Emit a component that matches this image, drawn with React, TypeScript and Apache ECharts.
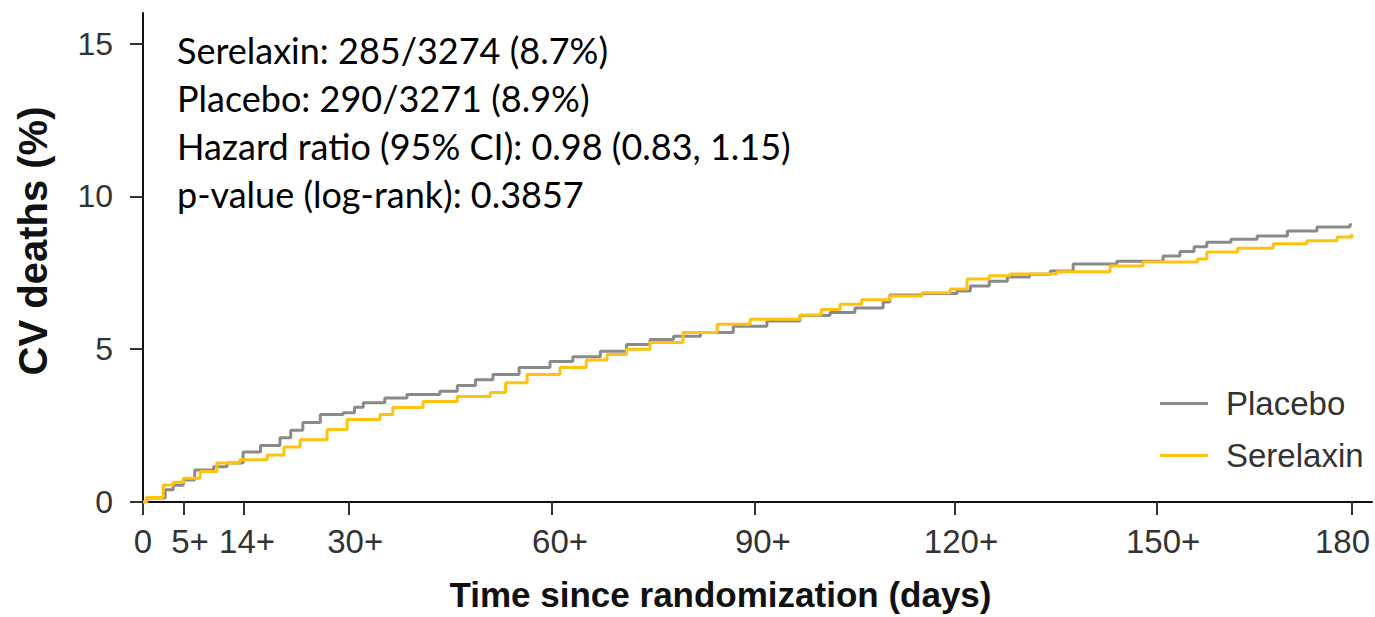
import React, { useEffect, useRef } from "react";
import * as echarts from "echarts";

const seriesNames = ["Placebo", "Serelaxin"];

const placeboDays = [0, 0.6, 3.3, 4.5, 6.0, 7.7, 10.5, 12.5, 14.9, 17.5, 20.4, 22, 23.8, 26.4, 29.8, 31.5, 32.8, 36, 39.3, 44.2, 46.8, 49.5, 52.1, 56, 60.6, 64, 68.1, 72, 75.5, 79, 83.0, 87.9, 92.9, 97.8, 102.3, 106, 110.2, 111.2, 116, 121.2, 123.2, 126, 128.7, 132, 135.1, 138.5, 145.0, 151.9, 154.4, 156.5, 158.4, 162, 165.9, 170.4, 174.8, 179.7, 180];
const placeboPct = [0, 0.13, 0.4, 0.55, 0.72, 1.05, 1.15, 1.28, 1.64, 1.85, 2.1, 2.35, 2.6, 2.86, 2.92, 3.1, 3.25, 3.4, 3.52, 3.62, 3.81, 4.0, 4.17, 4.4, 4.6, 4.75, 4.93, 5.15, 5.32, 5.42, 5.55, 5.75, 5.92, 6.1, 6.2, 6.35, 6.54, 6.77, 6.82, 6.9, 7.07, 7.22, 7.36, 7.45, 7.56, 7.79, 7.88, 8.05, 8.2, 8.35, 8.5, 8.6, 8.7, 8.87, 9.0, 9.07, 9.07];

const serelaxinDays = [0, 0.5, 3.0, 4.5, 6.0, 8.5, 11.0, 14.4, 18.5, 21, 23.4, 27.4, 30.4, 35.3, 37.2, 41.7, 46.8, 51.7, 54, 57.2, 62.1, 66, 69.1, 72, 75.5, 80.4, 85.5, 90.4, 97.8, 101, 103.8, 107, 111.2, 116, 120.2, 122.7, 126, 129.1, 136.1, 144, 148.9, 157.0, 158.4, 163, 168.3, 173.3, 177.8, 180];
const serelaxinPct = [0, 0.15, 0.56, 0.65, 0.78, 1.0, 1.28, 1.38, 1.54, 1.8, 2.04, 2.37, 2.7, 2.86, 3.09, 3.29, 3.45, 3.58, 3.9, 4.17, 4.4, 4.65, 4.83, 5.0, 5.22, 5.55, 5.82, 5.98, 6.12, 6.3, 6.47, 6.62, 6.74, 6.85, 6.97, 7.3, 7.4, 7.46, 7.53, 7.72, 7.85, 7.95, 8.18, 8.3, 8.45, 8.55, 8.67, 8.77];

const xTickDays = [0, 6, 15, 30.6, 60.8, 91.1, 120.9, 151, 180];
const xLabelDays = [0, 7, 15.5, 31.6, 62.1, 92.3, 121.8, 151.9, 178.6];
const xLabelTexts = ["0", "5+", "14+", "30+", "60+", "90+", "120+", "150+", "180"];
const yTicks = [0, 5, 10, 15];

const annotationLines = [
  "Serelaxin: 285/3274 (8.7%)",
  "Placebo: 290/3271 (8.9%)",
  "Hazard ratio (95% CI): 0.98 (0.83, 1.15)",
  "p-value (log-rank): 0.3857",
];

const xTitle = "Time since randomization (days)";
const yTitle = "CV deaths (%)";

const GREY = "#8a8a8a";
const GOLD = "#ffc20e";

export default function App() {
  const ref = useRef<HTMLDivElement>(null);

  useEffect(() => {
    if (!ref.current) return;
    const chart = echarts.init(ref.current, undefined, { renderer: "svg" });
    const toPairs = (d: number[], p: number[]) => d.map((x, i) => [x, p[i]]);

    const option: any = {
      animation: false,
      backgroundColor: "#ffffff",
      grid: { left: 143, right: 3, top: 13, bottom: 115, outerBoundsMode: "none" },
      legend: {
        orient: "vertical",
        left: 1155,
        top: 382,
        itemWidth: 48,
        itemHeight: 3,
        itemGap: 19,
        icon: "rect",
        data: seriesNames,
        textStyle: {
          fontFamily: "Liberation Sans",
          fontSize: 33,
          color: "#333333",
          padding: [0, 0, 0, 13],
        },
      },
      xAxis: {
        type: "value",
        min: 0,
        max: 183,
        name: xTitle,
        nameLocation: "middle",
        nameGap: 75,
        nameTextStyle: {
          fontFamily: "Liberation Sans",
          fontWeight: "bold",
          fontSize: 35,
          color: "#111111",
          padding: [0, 74, 0, 0],
        },
        axisLine: { show: true, onZero: false, lineStyle: { color: "#111111", width: 2 } },
        axisTick: { show: true, length: 13, customValues: xTickDays, lineStyle: { color: "#333333", width: 2 } },
        axisLabel: {
          customValues: xLabelDays,
          margin: 23,
          fontFamily: "Liberation Sans",
          fontSize: 33,
          color: "#333333",
          formatter: (v: number) => {
            const i = xLabelDays.findIndex((d) => Math.abs(d - v) < 1e-6);
            return i >= 0 ? xLabelTexts[i] : "";
          },
        },
        splitLine: { show: false },
      },
      yAxis: {
        type: "value",
        min: 0,
        max: 16,
        name: yTitle,
        nameLocation: "middle",
        nameGap: 90,
        nameTextStyle: {
          fontFamily: "Liberation Sans",
          fontWeight: "bold",
          fontSize: 40,
          color: "#111111",
          padding: [0, 0, 0, 33],
        },
        axisLine: { show: true, lineStyle: { color: "#111111", width: 2 } },
        axisTick: { show: true, length: 13, customValues: yTicks, lineStyle: { color: "#333333", width: 2 } },
        axisLabel: {
          customValues: yTicks,
          margin: 30,
          fontFamily: "Liberation Sans",
          fontSize: 32,
          color: "#333333",
        },
        splitLine: { show: false },
      },
      graphic: annotationLines.map((t, i) => ({
        type: "text",
        left: 177,
        top: 32 + i * 48,
        style: {
          text: t,
          fontFamily: "Lato",
          fontSize: 36,
          fill: "#000000",
        },
      })),
      series: [
        {
          name: seriesNames[0],
          type: "line",
          step: "end",
          symbol: "none",
          color: GREY,
          lineStyle: { width: 3, color: GREY },
          data: toPairs(placeboDays, placeboPct),
        },
        {
          name: seriesNames[1],
          type: "line",
          step: "end",
          symbol: "none",
          color: GOLD,
          lineStyle: { width: 3, color: GOLD },
          data: toPairs(serelaxinDays, serelaxinPct),
        },
      ],
    };

    chart.setOption(option);
    return () => chart.dispose();
  }, []);

  return (
    <div
      ref={ref}
      style={{ position: "fixed", left: 0, top: 0, width: 1375, height: 617, background: "#fff" }}
    />
  );
}
